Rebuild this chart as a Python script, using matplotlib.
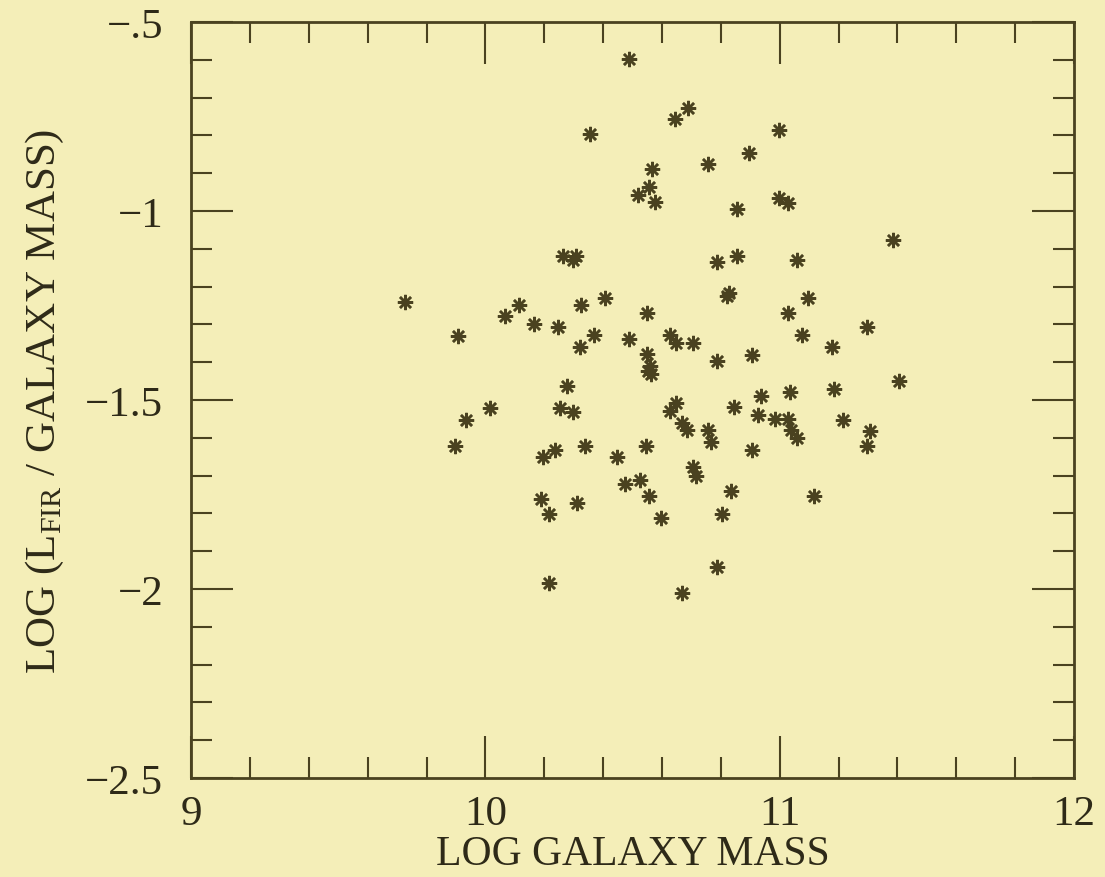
import matplotlib
matplotlib.use("Agg")
import matplotlib.pyplot as plt
from matplotlib.ticker import MultipleLocator, FixedLocator

# values (log galaxy mass, log L_FIR / mass)
log_mass = [
    9.726, 9.906, 10.067, 10.115, 10.166, 10.246, 10.265, 10.307, 10.299, 10.322,
    10.325, 10.276, 10.016, 9.935, 10.255, 10.296, 9.896, 10.237, 10.196, 10.339,
    10.188, 10.217, 10.311, 10.215, 10.488, 10.688, 10.645, 10.998, 10.356, 10.897,
    10.758, 10.566, 10.557, 10.518, 10.576, 10.854, 10.998, 11.029, 10.788, 10.855,
    11.057, 10.820, 10.828, 11.097, 10.407, 10.548, 11.029, 11.298, 10.369, 10.488,
    10.627, 10.648, 10.705, 11.075, 11.178, 10.548, 10.559, 10.554, 10.562, 10.787,
    10.907, 10.647, 10.627, 10.667, 10.684, 10.758, 10.767, 10.846, 10.936, 10.925,
    11.035, 10.984, 11.029, 11.037, 11.058, 11.186, 11.216, 11.307, 11.296, 10.907,
    10.446, 10.546, 10.707, 10.716, 10.475, 10.525, 10.557, 10.835, 11.118, 10.596,
    10.805, 10.788, 10.667, 11.386, 11.405,
]
log_lfir_mass = [
    -1.240, -1.331, -1.279, -1.249, -1.299, -1.306, -1.119, -1.118, -1.129, -1.359,
    -1.248, -1.462, -1.522, -1.552, -1.522, -1.531, -1.622, -1.632, -1.652, -1.621,
    -1.762, -1.802, -1.772, -1.983, -0.599, -0.728, -0.757, -0.787, -0.796, -0.847,
    -0.876, -0.888, -0.936, -0.957, -0.977, -0.995, -0.966, -0.978, -1.136, -1.118,
    -1.129, -1.224, -1.218, -1.229, -1.229, -1.269, -1.269, -1.308, -1.328, -1.339,
    -1.327, -1.348, -1.348, -1.328, -1.360, -1.378, -1.409, -1.422, -1.431, -1.398,
    -1.380, -1.509, -1.528, -1.561, -1.579, -1.579, -1.610, -1.519, -1.490, -1.539,
    -1.479, -1.550, -1.549, -1.580, -1.601, -1.471, -1.552, -1.582, -1.621, -1.632,
    -1.650, -1.621, -1.678, -1.702, -1.722, -1.712, -1.753, -1.742, -1.754, -1.812,
    -1.802, -1.941, -2.011, -1.077, -1.451,
]
x_ticks = [9, 10, 11, 12]
x_labels = ["9", "10", "11", "12"]
y_ticks = [-0.5, -1.0, -1.5, -2.0, -2.5]
y_labels = ["\u2212.5", "\u22121", "\u22121.5", "\u22122", "\u22122.5"]

paper = "#f4eeb8"
ink = "#4a4220"
text_ink = "#2e2a18"

plt.rcParams["font.family"] = ["Liberation Serif", "DejaVu Serif"]
plt.rcParams["mathtext.fontset"] = "custom"
plt.rcParams["mathtext.rm"] = "Liberation Serif"

fig = plt.figure(figsize=(11.05, 8.78), dpi=100, facecolor=paper)
ax = fig.add_axes([0.1729, 0.1128, 0.7991, 0.861])
ax.set_facecolor(paper)

ax.plot(log_mass, log_lfir_mass, linestyle="none", marker=(8, 2, 0),
        markersize=11, markeredgewidth=1.8, color=ink)

ax.set_xlim(9, 12)
ax.set_ylim(-2.5, -0.5)
ax.xaxis.set_major_locator(FixedLocator(x_ticks))
ax.set_xticklabels(x_labels)
ax.xaxis.set_minor_locator(MultipleLocator(0.2))
ax.yaxis.set_major_locator(FixedLocator(y_ticks))
ax.set_yticklabels(y_labels)
ax.yaxis.set_minor_locator(MultipleLocator(0.1))

ax.tick_params(which="both", direction="in", top=True, right=True,
               color=ink, width=1.5, labelcolor=text_ink, labelsize=31)
ax.tick_params(which="major", length=30)
ax.tick_params(axis="y", which="major", pad=20)
ax.tick_params(axis="x", which="major", pad=12)
ax.tick_params(which="minor", length=15)
for spine in ax.spines.values():
    spine.set_color(ink)
    spine.set_linewidth(2)

ax.set_xlabel("LOG GALAXY MASS", fontsize=30, color=text_ink, labelpad=1)
ax.set_ylabel(r"LOG (L$_{\mathrm{FIR}}$ / GALAXY MASS)", fontsize=31,
              color=text_ink, labelpad=14)

fig.savefig("out.png", dpi=100, facecolor=paper)
